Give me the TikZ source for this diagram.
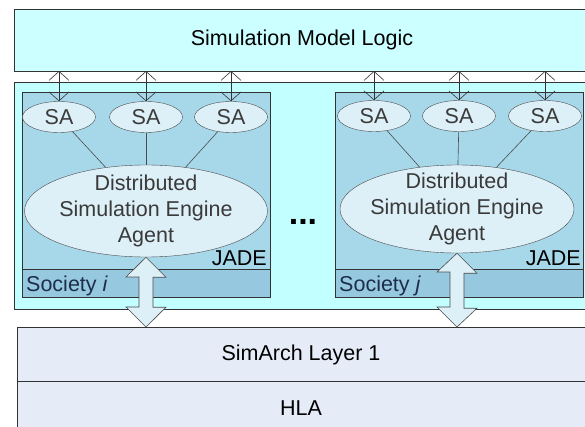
\documentclass[tikz,border=0pt]{standalone}
\usepackage{fontspec}
\setmainfont{Liberation Sans}
\usetikzlibrary{arrows.meta,calc,positioning,shapes.geometric}
\definecolor{topc}{HTML}{CCFFFF}
\definecolor{contc}{HTML}{C2FFFF}
\definecolor{innerc}{HTML}{A6D8EA}
\definecolor{bandc}{HTML}{96C8E0}
\definecolor{ellc}{HTML}{DDEFF7}
\definecolor{layc}{HTML}{E6ECF7}
\definecolor{txtg}{HTML}{3A3A3A}
\definecolor{socc}{HTML}{1E2E4A}
\tikzset{
  layer/.style={draw=black!80, line width=0.8pt},
  sabox/.style={ellipse, draw=black!70, fill=ellc, minimum width=73pt, minimum height=31pt, inner sep=0pt, font=\fontsize{21.5}{21.5}\selectfont, text=txtg},
  dsebox/.style={ellipse, draw=black!70, fill=ellc, inner xsep=-12pt, inner ysep=-8pt, align=center, font=\fontsize{21.5}{26}\selectfont, text=txtg},
  link/.style={draw=black!70, line width=0.6pt},
  thinarrow/.style={draw=black!80, line width=0.6pt, {Straight Barb[length=9pt,width=20pt]}-{Straight Barb[length=9pt,width=20pt]}},
  blockarrow/.style={draw=black!70, fill=ellc, line width=0.6pt, line join=miter},
  lbl/.style={inner sep=0pt, font=\fontsize{21.5}{21.5}\selectfont}
}
\begin{document}
\begin{tikzpicture}[x=1pt,y=-1pt]
\clip (0,0) rectangle (585,427);
\fill[white] (0,0) rectangle (585,427);
% top box
\draw[layer, fill=topc] (14,9) rectangle (600,71);
\node[lbl] (sml) at (302,40) {Simulation Model Logic};
\coordinate (smlb) at (301,71);
% container
\draw[layer, fill=contc] (14,82) rectangle (600,309);
% societies
\draw[layer, fill=bandc] (22,92) rectangle (270,297);
\draw[layer, fill=innerc] (22,92) rectangle (270,269);
\draw[layer, fill=bandc] (335,92) rectangle (583,297);
\draw[layer, fill=innerc] (335,92) rectangle (583,269);
\node[lbl, anchor=base west, text=socc] (soci) at (26,291) {Society \textit{i}};
\node[lbl, anchor=base east] (jadei) at (267,265) {JADE};
\node[lbl, anchor=base west, text=socc] (socj) at (339,291) {Society \textit{j}};
\node[lbl, anchor=base east] (jadej) at (581,265) {JADE};
% SA nodes
\node[sabox] (sa1) at (59,117) {SA};
\node[sabox] (sa2) at (146,117) {SA};
\node[sabox] (sa3) at (231,117) {SA};
\node[sabox] (sa4) at (374,116) {SA};
\node[sabox] (sa5) at (459,116) {SA};
\node[sabox] (sa6) at (545,116) {SA};
% DSE
\node[dsebox, minimum width=243pt, minimum height=92pt] (dse1) at (146,211) {Distributed\\Simulation Engine\\Agent};
\node[dsebox, minimum width=234pt, minimum height=88pt] (dse2) at (457,209) {Distributed\\Simulation Engine\\Agent};
% links
\draw[link] (sa1) -- (dse1);
\draw[link] (sa2) -- (dse1);
\draw[link] (sa3) -- (dse1);
\draw[link] (sa4) -- (dse2);
\draw[link] (sa5) -- (dse2);
\draw[link] (sa6) -- (dse2);
% thin arrows
\foreach \s in {sa1,sa2,sa3,sa4,sa5,sa6}{
  \draw[thinarrow] (\s.north |- smlb) -- (\s.north);
}
% dots
\node[font=\fontsize{34}{34}\selectfont\bfseries, inner sep=0pt, anchor=base] (dots) at (303,225) {...};
% lower layers
\draw[layer, fill=layc] (17,327) rectangle (600,381);
\draw[layer, fill=layc] (17,381) rectangle (600,440);
\node[lbl] (sim) at (301,355) {SimArch Layer 1};
\node[lbl] (hla) at (301,408) {HLA};
% block arrows
\draw[blockarrow] (dse1.south) -- ++(20,20) -- ++(-13,0) -- ++(0,30) -- ++(13,0) -- (dse1.south |- 0,327) -- ++(-20,-20) -- ++(13,0) -- ++(0,-30) -- ++(-13,0) -- cycle;
\draw[blockarrow] (dse2.south) -- ++(20,20) -- ++(-13,0) -- ++(0,35) -- ++(13,0) -- (dse2.south |- 0,327) -- ++(-20,-20) -- ++(13,0) -- ++(0,-35) -- ++(-13,0) -- cycle;
\end{tikzpicture}
\end{document}
